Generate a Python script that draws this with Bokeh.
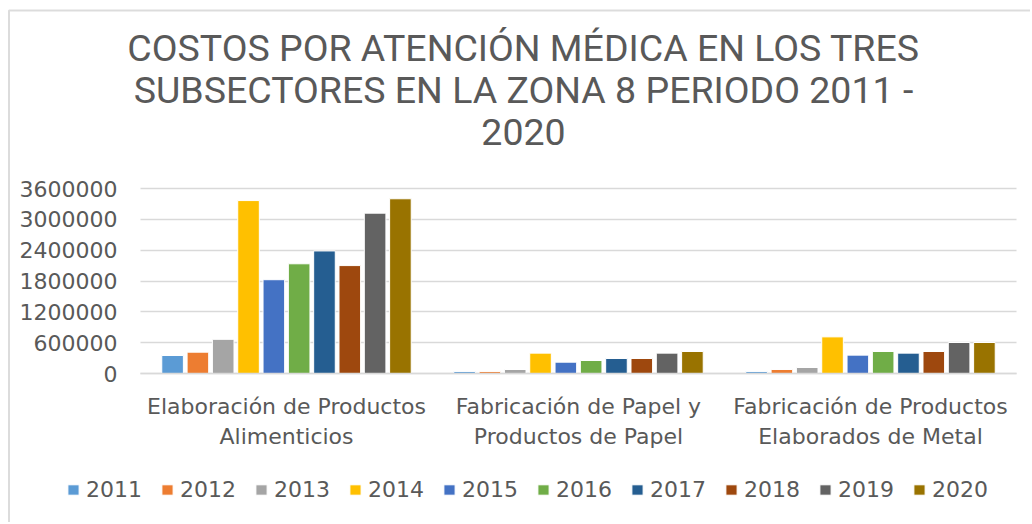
from bokeh.plotting import figure
from bokeh.models import (Range1d, FixedTicker, Legend, LegendItem, Label, BoxAnnotation,
                          ColumnDataSource, NumeralTickFormatter)
from bokeh.transform import dodge
from bokeh.embed import file_html
from bokeh.resources import INLINE

categories = ["Elaboración de Productos\nAlimenticios",
              "Fabricación de Papel y\nProductos de Papel",
              "Fabricación de Productos\nElaborados de Metal"]
years = ["2011", "2012", "2013", "2014", "2015", "2016", "2017", "2018", "2019", "2020"]
v2011 = [350000, 40000, 40000]
v2012 = [415000, 40000, 78000]
v2013 = [665000, 78000, 117000]
v2014 = [3365000, 396000, 713000]
v2015 = [1825000, 220000, 357000]
v2016 = [2135000, 253000, 428000]
v2017 = [2385000, 292000, 396000]
v2018 = [2100000, 292000, 428000]
v2019 = [3120000, 396000, 603000]
v2020 = [3400000, 428000, 603000]
series = [v2011, v2012, v2013, v2014, v2015, v2016, v2017, v2018, v2019, v2020]
colors = ["#5B9BD5", "#ED7D31", "#A5A5A5", "#FFC000", "#4472C4",
          "#70AD47", "#255E91", "#9E480E", "#636363", "#997300"]
y_ticks = [0, 600000, 1200000, 1800000, 2400000, 3000000, 3600000]
title_lines = ["COSTOS POR ATENCIÓN MÉDICA EN LOS TRES",
               "SUBSECTORES EN LA ZONA 8 PERIODO 2011 -",
               "2020"]

# ---- layout constants (pixels on the page) ----
W, H = 1030, 522
PX_LEFT, CAT_PX = 140, 292          # plot-area left edge, width of one category
ZERO_PX, TOP_PX = 373, 188          # y pixel of 0 and of the top tick
Y_TOP = y_ticks[-1]


def xd(px):
    return (px - PX_LEFT) / CAT_PX


def yd(py):
    return (ZERO_PX - py) * Y_TOP / (ZERO_PX - TOP_PX)


xpos = [i + 0.5 for i in range(len(categories))]
data = {"x": xpos}
for yr, vals in zip(years, series):
    data[yr] = vals
src = ColumnDataSource(data)

TXT = "#595959"
p = figure(width=W, height=H, x_range=Range1d(xd(0), xd(W)), y_range=Range1d(yd(H), yd(0)),
           output_backend="svg", toolbar_location=None,
           min_border_left=0, min_border_right=0, min_border_top=0, min_border_bottom=0)
p.outline_line_color = None
p.background_fill_color = "white"
p.border_fill_color = "white"

step = 0.0867
renderers = []
for i, (yr, col) in enumerate(zip(years, colors)):
    r = p.vbar(x=dodge("x", (i - 4.5) * step), top=yr, width=0.074,
               source=src, fill_color=col, line_color="white", line_width=1)
    renderers.append(r)

p.xgrid.visible = False
p.ygrid.ticker = FixedTicker(ticks=y_ticks)
p.ygrid.grid_line_color = "#D9D9D9"
p.ygrid.grid_line_width = 1.5
try:
    p.ygrid.cross_bounds = (0, len(categories))
except Exception:
    pass

p.yaxis.fixed_location = 0
p.yaxis.bounds = (0, Y_TOP)
p.yaxis.ticker = FixedTicker(ticks=y_ticks)
p.yaxis.formatter = NumeralTickFormatter(format="0")
p.yaxis.axis_line_color = None
p.yaxis.major_tick_line_color = None
p.yaxis.minor_tick_line_color = None
p.yaxis.major_tick_out = 0
p.yaxis.major_tick_in = 0
p.yaxis.major_label_standoff = 23
p.yaxis.major_label_text_font = "DejaVu Sans"
p.yaxis.major_label_text_font_size = "22px"
p.yaxis.major_label_text_color = TXT

p.xaxis.fixed_location = 0
p.xaxis.bounds = (0, len(categories))
p.xaxis.ticker = FixedTicker(ticks=xpos)
p.xaxis.major_label_overrides = {x: c for x, c in zip(xpos, categories)}
p.xaxis.axis_line_color = "#D9D9D9"
p.xaxis.axis_line_width = 1.5
p.xaxis.major_tick_line_color = None
p.xaxis.minor_tick_line_color = None
p.xaxis.major_label_standoff = 14
p.xaxis.major_label_text_font = "DejaVu Sans"
p.xaxis.major_label_text_font_size = "22px"
p.xaxis.major_label_text_color = TXT

for txt, py in zip(title_lines, [47, 89, 131]):
    p.add_layout(Label(x=xd(523), y=yd(py), text=txt, text_align="center",
                       text_baseline="middle", text_font="Roboto",
                       text_font_size="37.5px", text_color=TXT))

legend = Legend(items=[LegendItem(label=yr, renderers=[r]) for yr, r in zip(years, renderers)],
                orientation="horizontal", location=(66, 20),
                glyph_width=14, glyph_height=13, label_standoff=6, spacing=18,
                padding=0, margin=0, border_line_color=None, background_fill_alpha=0,
                label_text_font="DejaVu Sans", label_text_font_size="22px",
                label_text_color=TXT)
p.add_layout(legend)

border = BoxAnnotation(left=xd(8.5), right=xd(W + 50), top=yd(10), bottom=yd(H + 50),
                       fill_alpha=0, line_color="#8C8C8C", line_width=2)
p.add_layout(border)

open("out.html", "w").write(file_html(p, INLINE))
